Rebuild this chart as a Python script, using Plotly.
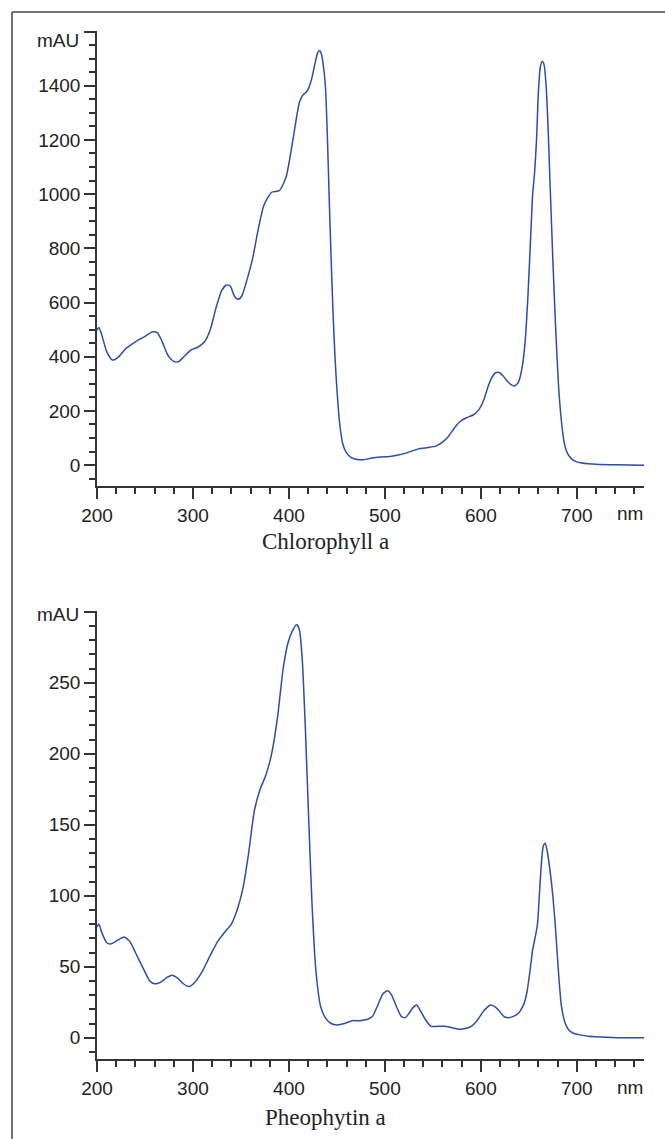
import plotly.graph_objects as go

# Chlorophyll a spectrum (nm, mAU)
chl_nm = [200, 202, 205, 210, 216, 222, 230, 240, 250, 258, 263, 268, 274, 280, 285, 290,
          298, 305, 312, 318, 324, 330, 335, 339, 343, 347, 351, 356, 362, 368, 374, 382,
          390, 397, 404, 411, 415, 418, 421, 424, 427, 430, 432, 434, 436, 438,
          440, 442, 444, 446, 448, 450, 453, 456, 460, 465, 470, 478, 485, 495, 505, 515,
          525, 535, 545, 553, 560, 566, 572, 578, 585, 592, 598, 603, 607, 611, 615, 619,
          623, 627, 631, 635, 639, 643, 646, 649, 652, 654, 656, 658, 660, 662, 664, 666,
          668, 670, 672, 675, 678, 681, 684, 687, 690, 694, 698, 705, 712, 720, 740, 770]
chl_val = [498, 508, 480, 420, 388, 398, 430, 455, 475, 492, 488, 455, 405, 383, 382, 398,
           425, 435, 455, 500, 580, 645, 665, 660, 625, 612, 625, 680, 760, 870, 960, 1007,
           1013, 1062, 1197, 1340, 1368, 1376, 1395, 1430, 1480, 1522, 1530, 1515, 1470, 1400,
           1220, 980, 760, 560, 400, 280, 150, 80, 45, 28, 22, 20, 25, 30, 32, 38,
           48, 60, 65, 70, 85, 105, 135, 160, 175, 185, 205, 240, 285, 320, 340, 342,
           330, 312, 298, 292, 305, 360, 450, 620, 850, 1000, 1080, 1200, 1380, 1470, 1490, 1475,
           1400, 1250, 1050, 760, 500, 290, 160, 80, 45, 25, 15, 8, 5, 3, 1, 0]

# Pheophytin a spectrum (nm, mAU)
pheo_nm = [200, 202, 205, 210, 214, 220, 228, 234, 240, 248, 255, 260, 266, 272, 278, 284,
           290, 296, 302, 310, 318, 326, 334, 340, 346, 352, 358, 364, 370, 376, 382, 388,
           394, 399, 404, 408, 411, 414, 417, 420, 424, 428, 433, 438, 444, 450, 458, 466,
           474, 482, 487, 492, 498, 503, 507, 512, 517, 521, 525, 529, 533, 537, 542, 548,
           555, 562, 570, 578, 584, 590, 596, 602, 606, 610, 614, 619, 624, 629, 634, 639,
           642, 645, 648, 651, 654, 657, 659, 662, 665, 667, 669, 672, 675, 678, 681, 684,
           688, 692, 697, 703, 712, 725, 745, 770]
pheo_val = [78, 80, 74, 67, 66, 68, 71, 68, 60, 49, 40, 38, 39, 42, 44, 42,
            38, 36, 39, 47, 58, 68, 75, 80, 90, 105, 130, 160, 175, 185, 200, 225,
            260, 278, 287, 291, 287, 265, 220, 165, 95, 48, 22, 14, 10, 9, 10, 12,
            12, 13, 15, 22, 31, 33, 30, 22, 15, 14, 17, 21, 23, 19, 13, 8,
            8, 8, 7, 6, 6.5, 8, 12, 18, 21, 23, 22, 19, 15, 14, 15, 17,
            20, 24, 32, 46, 62, 72, 80, 112, 135, 137, 132, 118, 100, 75, 45, 22,
            10, 5, 3, 2, 1, 0.5, 0, 0]

chl_ticks = [0, 200, 400, 600, 800, 1000, 1200, 1400, 1600]
chl_labels = ["0", "200", "400", "600", "800", "1000", "1200", "1400", ""]
pheo_ticks = [0, 50, 100, 150, 200, 250, 300]
pheo_labels = ["0", "50", "100", "150", "200", "250", ""]
x_ticks = [200, 300, 400, 500, 600, 700]
x_labels = ["200", "300", "400", "500", "600", "700"]

W, H = 665, 1139
def px(x):
    return x / W
def py(y):
    return 1 - y / H

LINE = "rgb(45,78,168)"
AX = "#333333"
TICKFONT = dict(family="Liberation Sans, Arial, sans-serif", size=19, color="#222222")

fig = go.Figure()
fig.add_trace(go.Scatter(x=chl_nm, y=chl_val, mode="lines", xaxis="x", yaxis="y",
                         line=dict(color=LINE, width=1.5, shape="spline", smoothing=0.6),
                         showlegend=False))
fig.add_trace(go.Scatter(x=pheo_nm, y=pheo_val, mode="lines", xaxis="x2", yaxis="y2",
                         line=dict(color=LINE, width=1.5, shape="spline", smoothing=0.6),
                         showlegend=False))

xcommon = dict(range=[200, 770], showline=True, linecolor=AX, linewidth=1.5,
               ticks="outside", ticklen=11, tickwidth=1.5, tickcolor=AX,
               tickvals=x_ticks, ticktext=x_labels, tickfont=TICKFONT,
               minor=dict(dtick=20, tick0=200, ticks="outside", ticklen=6, tickwidth=1.5, tickcolor=AX),
               showgrid=False, zeroline=False, fixedrange=True, automargin=False)
ycommon = dict(showline=True, linecolor=AX, linewidth=1.5,
               ticks="outside", ticklen=11, tickwidth=1.5, tickcolor=AX,
               tickfont=TICKFONT, showgrid=False, zeroline=False, fixedrange=True, automargin=False)

fig.update_layout(
    template="none",
    width=W, height=H,
    margin=dict(l=0, r=0, t=0, b=0, pad=0),
    paper_bgcolor="white", plot_bgcolor="white",
    xaxis=dict(**xcommon, domain=[px(97), px(644)], anchor="y"),
    yaxis=dict(**ycommon, domain=[py(486), py(31)], anchor="x",
               range=[-77, 1602], tickvals=chl_ticks, ticktext=chl_labels,
               minor=dict(dtick=50, tick0=0, ticks="outside", ticklen=6, tickwidth=1.5, tickcolor=AX)),
    xaxis2=dict(**xcommon, domain=[px(97), px(644)], anchor="y2"),
    yaxis2=dict(**ycommon, domain=[py(1059), py(611)], anchor="x2",
                range=[-15, 300.5], tickvals=pheo_ticks, ticktext=pheo_labels,
                minor=dict(dtick=10, tick0=0, ticks="outside", ticklen=6, tickwidth=1.5, tickcolor=AX)),
)

ann = []
for (x, y, t) in [(81, 41, "mAU"), (81, 614, "mAU")]:
    ann.append(dict(x=px(x), y=py(y), xref="paper", yref="paper", text=t, showarrow=False,
                    xanchor="right", yanchor="middle", font=TICKFONT))
for (x, y) in [(630, 513), (630, 1087)]:
    ann.append(dict(x=px(x), y=py(y), xref="paper", yref="paper", text="nm", showarrow=False,
                    xanchor="center", yanchor="middle", font=TICKFONT))
TITLEFONT = dict(family="Liberation Serif, Times New Roman, serif", size=23, color="#222222")
for (x, y, t) in [(325, 541, "Chlorophyll a"), (325, 1117, "Pheophytin a")]:
    ann.append(dict(x=px(x), y=py(y), xref="paper", yref="paper", text=t, showarrow=False,
                    xanchor="center", yanchor="middle", font=TITLEFONT))
fig.update_layout(annotations=ann)

# outer frame (top and left edges)
fig.add_shape(type="line", xref="paper", yref="paper", x0=px(12), y0=py(12), x1=1, y1=py(12),
              line=dict(color="#444444", width=1.5))
fig.add_shape(type="line", xref="paper", yref="paper", x0=px(12), y0=py(12), x1=px(12), y1=0,
              line=dict(color="#444444", width=1.5))

fig.write_html("out.html", config={"displayModeBar": False},
               post_script="document.body.style.margin='0';document.body.style.padding='0';"
                           "document.body.style.overflow='hidden';")
